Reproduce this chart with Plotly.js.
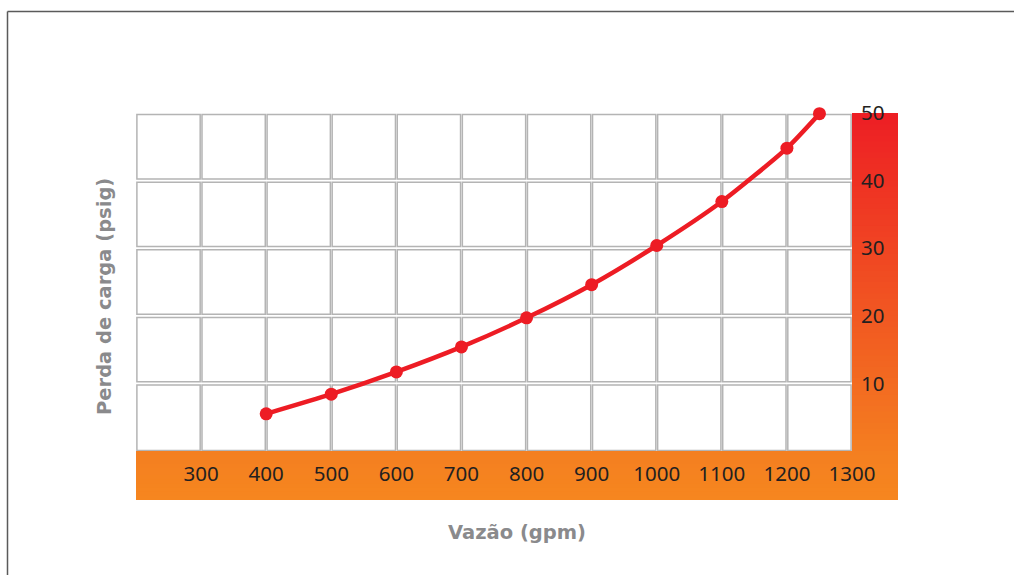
<!DOCTYPE html>
<html>
<head>
<meta charset="utf-8">
<script src="https://cdn.plot.ly/plotly-3.0.1.min.js"></script>
<style>html,body{margin:0;padding:0;background:#fff;}#chart{width:1014px;height:575px;}</style>
</head>
<body>
<div id="chart"></div>
<script>
// Data
var flowGpm = [400, 500, 600, 700, 800, 900, 1000, 1100, 1200, 1250];
var pressureLossPsig = [5.5, 8.4, 11.7, 15.4, 19.7, 24.6, 30.4, 36.9, 44.8, 49.9];
var xTickVals = [300, 400, 500, 600, 700, 800, 900, 1000, 1100, 1200, 1300];
var yTickVals = [10, 20, 30, 40, 50];
var xTitle = "Vazão (gpm)";
var yTitle = "Perda de carga (psig)";

var W = 1014, H = 575;
var mL = 136, mR = 116, mT = 113, mB = 75;
var plotW = W - mL - mR, plotH = H - mT - mB;
var xDomEnd = 716 / plotW;
var yDomStart = (500 - 451) / plotH;
function px(x) { return (x - mL) / plotW; }
function py(y) { return (H - mB - y) / plotH; }

var shapes = [];
function lerp(a, b, t) { return Math.round(a + (b - a) * t); }
// gradient band (right) strips
var cTop = [237, 30, 36], cBot = [244, 126, 32];
var N = 60;
for (var k = 0; k < N; k++) {
  var t = (k + 0.5) / N;
  var y1 = 1 - (1 - yDomStart) * k / N;
  var y0 = 1 - (1 - yDomStart) * (k + 1) / N;
  var col = 'rgb(' + lerp(cTop[0], cBot[0], t) + ',' + lerp(cTop[1], cBot[1], t) + ',' + lerp(cTop[2], cBot[2], t) + ')';
  shapes.push({type: 'rect', xref: 'paper', yref: 'paper', x0: xDomEnd, x1: 1,
    y0: Math.max(y0 - 0.006, yDomStart), y1: y1,
    fillcolor: col, line: {width: 0}, layer: 'below'});
}
// bottom band strips
var bTop = [244, 127, 32], bBot = [246, 134, 31];
var NB = 12;
for (var k2 = 0; k2 < NB; k2++) {
  var t2 = (k2 + 0.5) / NB;
  var yy1 = yDomStart - yDomStart * k2 / NB;
  var yy0 = yDomStart - yDomStart * (k2 + 1) / NB;
  var col2 = 'rgb(' + lerp(bTop[0], bBot[0], t2) + ',' + lerp(bTop[1], bBot[1], t2) + ',' + lerp(bTop[2], bBot[2], t2) + ')';
  shapes.push({type: 'rect', xref: 'paper', yref: 'paper', x0: 0, x1: 1,
    y0: Math.max(yy0 - 0.006, 0), y1: yy1,
    fillcolor: col2, line: {width: 0}, layer: 'below'});
}
// grid cells
var xPerPx = 1100 / 716, yPerPx = 50 / 337;
for (var cx = 200; cx < 1300; cx += 100) {
  for (var cy = 0; cy < 50; cy += 10) {
    shapes.push({type: 'rect', xref: 'x', yref: 'y',
      x0: cx + 0.9 * xPerPx, x1: cx + 100 - 0.9 * xPerPx,
      y0: cy + (cy === 0 ? 0.4 : 1.6) * yPerPx, y1: cy + 10 - 1.6 * yPerPx,
      fillcolor: '#ffffff', line: {color: '#b4b4b4', width: 1.5}, layer: 'below'});
  }
}
// frame lines
shapes.push({type: 'line', xref: 'paper', yref: 'paper', x0: px(7.5), x1: px(7.5), y0: py(11.5), y1: py(575),
  line: {color: '#5a5a5a', width: 1.5}});
shapes.push({type: 'line', xref: 'paper', yref: 'paper', x0: px(7.5), x1: px(1014), y0: py(11.5), y1: py(11.5),
  line: {color: '#5a5a5a', width: 1.5}});

var trace = {
  x: flowGpm, y: pressureLossPsig, type: 'scatter', mode: 'lines+markers',
  line: {color: '#ED1C24', width: 4.5, shape: 'spline', smoothing: 0.6},
  marker: {color: '#ED1C24', size: 13},
  cliponaxis: false, hoverinfo: 'skip'
};

var layout = {
  width: W, height: H,
  margin: {l: mL, r: mR, t: mT, b: mB, pad: 0},
  paper_bgcolor: '#ffffff', plot_bgcolor: 'rgba(0,0,0,0)',
  showlegend: false,
  xaxis: {
    domain: [0, xDomEnd], range: [200, 1300], showgrid: false, zeroline: false, showline: false,
    tickvals: xTickVals, ticktext: xTickVals.map(String), ticks: '', ticklabelstandoff: 8,
    tickfont: {family: 'Noto Sans', size: 20.5, color: '#231f20'}, fixedrange: true
  },
  yaxis: {
    domain: [yDomStart, 1], range: [0, 50], side: 'right', showgrid: false, zeroline: false, showline: false,
    tickvals: yTickVals, ticktext: yTickVals.map(String), ticks: '', ticklabelstandoff: 8,
    tickfont: {family: 'Noto Sans', size: 20.5, color: '#231f20'}, fixedrange: true
  },
  shapes: shapes,
  annotations: [
    {text: '<b>' + xTitle + '</b>', xref: 'paper', yref: 'paper', x: px(517), y: py(532),
     xanchor: 'center', yanchor: 'middle', showarrow: false,
     font: {family: 'DejaVu Sans', size: 19.5, color: '#8a8a8c'}},
    {text: '<b>' + yTitle + '</b>', xref: 'paper', yref: 'paper', x: px(104), y: py(297),
     xanchor: 'center', yanchor: 'middle', showarrow: false, textangle: -90,
     font: {family: 'DejaVu Sans', size: 19.5, color: '#8a8a8c'}}
  ]
};

Plotly.newPlot('chart', [trace], layout, {displayModeBar: false, staticPlot: true});
</script>
</body>
</html>
